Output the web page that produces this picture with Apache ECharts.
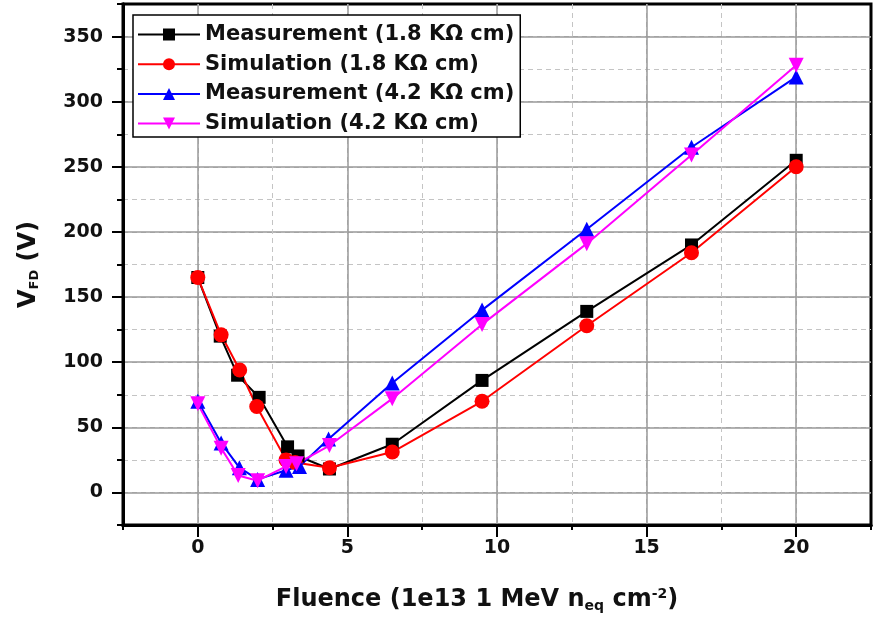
<!DOCTYPE html>
<html>
<head>
<meta charset="utf-8">
<script src="https://cdn.jsdelivr.net/npm/echarts@6/dist/echarts.min.js"></script>
<style>
html, body { margin: 0; padding: 0; background: #fff; }
#chart { width: 873px; height: 620px; }
</style>
</head>
<body>
<div id="chart"></div>
<script>
// fluence (1e13 neq/cm2) and full depletion voltage (V)
var xMeas18 = [0, 0.75, 1.33, 2.05, 3.0, 3.35, 4.4, 6.5, 9.5, 13, 16.5, 20];
var yMeas18 = [165, 120, 90, 73, 35, 28, 18, 37, 86, 139, 190, 255];
var xSim18 = [0, 0.78, 1.4, 1.97, 2.95, 3.25, 4.4, 6.5, 9.5, 13, 16.5, 20];
var ySim18 = [165, 121, 94, 66, 25, 23, 19, 31, 70, 128, 184, 250];
var xMeas42 = [0, 0.78, 1.39, 2.0, 2.95, 3.4, 4.37, 6.5, 9.5, 13, 16.5, 20];
var yMeas42 = [70, 38, 19, 10, 17, 20, 41, 84, 140, 202, 265, 319];
var xSim42 = [0, 0.78, 1.35, 2.0, 2.95, 3.3, 4.4, 6.5, 9.5, 13, 16.5, 20];
var ySim42 = [68, 34, 13, 9, 20, 22, 36, 72, 129, 191, 259, 328];
var names = ['Measurement (1.8 K\u03a9 cm)', 'Simulation (1.8 K\u03a9 cm)',
             'Measurement (4.2 K\u03a9 cm)', 'Simulation (4.2 K\u03a9 cm)'];

function pairs(xs, ys) {
  return xs.map(function (x, i) { return [x, ys[i]]; });
}

var font = 'DejaVu Sans';
var chart = echarts.init(document.getElementById('chart'), null, {renderer: 'canvas'});

var gridPos = {left: 123, right: 2, top: 4, bottom: 95};

function line(name, xs, ys, color, symbol, size, rotate) {
  return {
    name: name, type: 'line', xAxisIndex: 0, yAxisIndex: 0,
    data: pairs(xs, ys),
    symbol: symbol, symbolSize: size, symbolRotate: rotate || 0,
    showAllSymbol: true,
    lineStyle: {color: color, width: 2},
    itemStyle: {color: color},
    emphasis: {disabled: true},
    animation: false
  };
}

var option = {
  backgroundColor: '#fff',
  animation: false,
  grid: [
    Object.assign({show: true, borderColor: '#000', borderWidth: 3, backgroundColor: 'transparent'}, gridPos),
    Object.assign({show: false}, gridPos)
  ],
  legend: {
    left: 133, top: 15, orient: 'vertical',
    backgroundColor: '#fff', borderColor: '#000', borderWidth: 1.5,
    padding: [9, 6, 3, 4],
    itemWidth: 62, itemHeight: 15, itemGap: 8.7,
    textStyle: {fontFamily: font, fontWeight: 'bold', fontSize: 21, color: '#111'},
    data: names
  },
  xAxis: [
    {
      type: 'value', gridIndex: 0, min: -2.5, max: 22.5, interval: 2.5,
      axisLine: {onZero: false, lineStyle: {color: '#000', width: 3}},
      axisTick: {length: 5, lineStyle: {color: '#000', width: 2}},
      axisLabel: {show: false},
      splitLine: {showMinLine: false, showMaxLine: false, lineStyle: {color: '#c4c4c4', type: [5, 4], width: 1}}
    },
    {
      type: 'value', gridIndex: 1, min: -2.5, max: 22.5, splitNumber: 5,
      axisLine: {onZero: false, lineStyle: {color: '#000', width: 3}},
      axisTick: {length: 12, lineStyle: {color: '#000', width: 2}},
      axisLabel: {
        margin: 14, color: '#111', fontFamily: font, fontWeight: 'bold', fontSize: 19,
        showMinLabel: false, showMaxLabel: false,
        formatter: function (v) { return (v >= 0 && v <= 20) ? String(v) : ''; }
      },
      splitLine: {showMinLine: false, showMaxLine: false, lineStyle: {color: '#999', width: 1.5}},
      name: '{t|Fluence (1e13 1 MeV n}{sub|eq}{t| cm}{sup|-2}{t|)}',
      nameLocation: 'middle', nameGap: 62,
      nameTextStyle: {
        padding: [0, 40, 0, 0],
        rich: {
          t: {fontFamily: font, fontWeight: 'bold', fontSize: 24, color: '#111'},
          sub: {fontFamily: font, fontWeight: 'bold', fontSize: 14, color: '#111', verticalAlign: 'bottom', padding: [12, 0, 0, 0]},
          sup: {fontFamily: font, fontWeight: 'bold', fontSize: 14, color: '#111', verticalAlign: 'top', padding: [0, 0, 10, 0]}
        }
      }
    }
  ],
  yAxis: [
    {
      type: 'value', gridIndex: 0, min: -25, max: 375, interval: 25,
      axisLine: {onZero: false, lineStyle: {color: '#000', width: 3}},
      axisTick: {length: 6, lineStyle: {color: '#000', width: 2}},
      axisLabel: {show: false},
      splitLine: {showMinLine: false, showMaxLine: false, lineStyle: {color: '#c4c4c4', type: [5, 4], width: 1}}
    },
    {
      type: 'value', gridIndex: 1, min: -25, max: 375, splitNumber: 8,
      axisLine: {onZero: false, lineStyle: {color: '#000', width: 3}},
      axisTick: {length: 11, lineStyle: {color: '#000', width: 2}},
      axisLabel: {
        margin: 20, color: '#111', fontFamily: font, fontWeight: 'bold', fontSize: 19,
        showMinLabel: false, showMaxLabel: false,
        formatter: function (v) { return (v >= 0 && v <= 350) ? String(v) : ''; }
      },
      splitLine: {showMinLine: false, showMaxLine: false, lineStyle: {color: '#999', width: 1.5}},
      name: '{t|V}{sub|FD}{t| (V)}',
      nameLocation: 'middle', nameGap: 82,
      nameTextStyle: {
        padding: [0, 0, 0, 0],
        rich: {
          t: {fontFamily: font, fontWeight: 'bold', fontSize: 24, color: '#111'},
          sub: {fontFamily: font, fontWeight: 'bold', fontSize: 13, color: '#111', verticalAlign: 'bottom', padding: [12, 0, 0, 0]}
        }
      }
    }
  ],
  series: [
    line(names[0], xMeas18, yMeas18, '#000000', 'rect', 13),
    line(names[1], xSim18, ySim18, '#ff0000', 'circle', 15),
    line(names[2], xMeas42, yMeas42, '#0000ff', 'triangle', 15),
    line(names[3], xSim42, ySim42, '#ff00ff', 'triangle', 15, 180)
  ]
};
chart.setOption(option);
</script>
</body>
</html>
